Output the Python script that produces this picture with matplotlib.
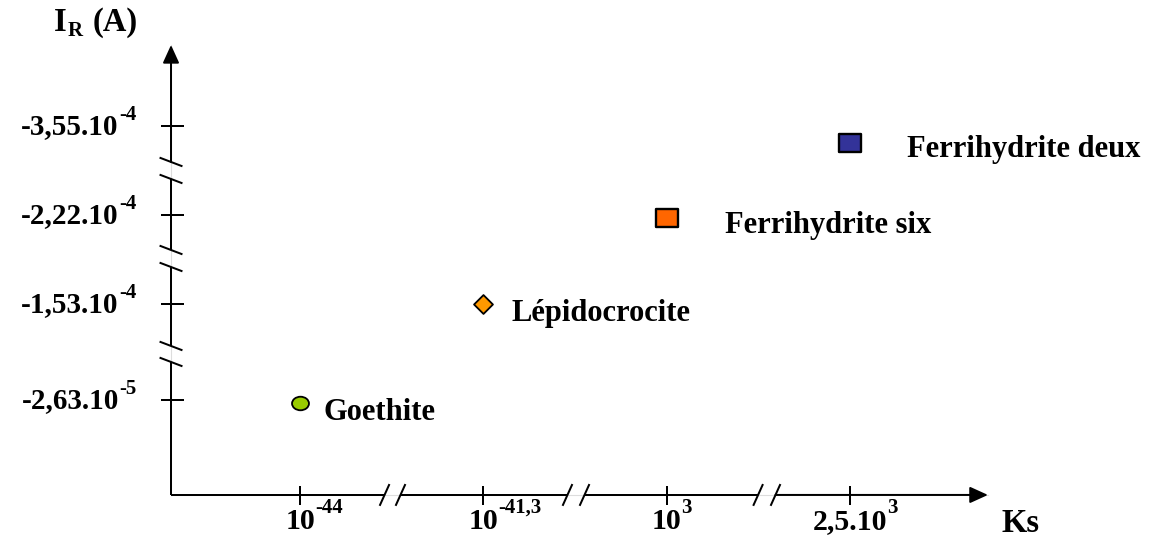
import matplotlib.pyplot as plt
from matplotlib.path import Path
from matplotlib.transforms import Affine2D

plt.rcParams['font.family'] = ['Liberation Serif', 'DejaVu Serif']
plt.rcParams['font.weight'] = 'bold'

# axe des Ks : graduations sur un axe coupé
ks_base = ['10', '10', '10', '2,5.10']
ks_exp = ['-44', '-41,3', '3', '3']
ks_pos = [1, 2, 3, 4]

# axe du courant I_R (A)
ir_base = ['-2,63.10', '-1,53.10', '-2,22.10', '-3,55.10']
ir_exp = ['-5', '-4', '-4', '-4']
ir_pos = [1, 2.05, 3.02, 4]

# oxydes de fer
minerals = ['Goethite', 'Lépidocrocite', 'Ferrihydrite six', 'Ferrihydrite deux']
min_ks = [1, 2, 3, 4]
min_ir = [0.97, 2.05, 2.99, 3.81]
colors = ['#99CC00', '#FF9900', '#FF6600', '#333399']

# coupures des axes
x_breaks = [1.461, 1.548, 2.459, 2.552, 3.499, 3.594]
y_breaks = [1.416, 1.591, 2.455, 2.641, 3.418, 3.604]
x0, y0 = 0.296, -0.039
x_tip, y_tip = 4.753, 4.884

LW = 1.44

ellipse = Path.unit_circle().transformed(Affine2D().scale(1.25, 1))
diamond = Path([(0, 1), (1, 0), (0, -1), (-1, 0), (0, 1)], closed=True)
rect = Path.unit_rectangle().transformed(Affine2D().translate(-0.5, -0.5).scale(1.2, 1))
markers = [ellipse, diamond, rect, rect]
msizes = [12.2, 13.6, 15.6, 16.0]
# décalage des étiquettes (pixels)
lab_off = [(23.5, -17), (28, -17), (58, -15), (57.5, -14)]

fig = plt.figure(figsize=(11.54, 5.39), dpi=100)
ax = fig.add_axes([0, 0, 1, 1])
ax.set_xlim(-0.637, 5.659)
ax.set_ylim(-0.521, 5.376)
ax.axis('off')

# trait fin gris sous les coupures
ax.plot([x0, x_tip], [y0, y0], color='#dddddd', lw=0.8, zorder=1)
ax.plot([x0, x0], [y0, y_tip], color='#dddddd', lw=0.8, zorder=1)

# axe horizontal
xs = [x0] + x_breaks
for a, b in zip(xs[0::2], xs[1::2]):
    ax.plot([a, b], [y0, y0], color='k', lw=LW, solid_capstyle='butt', zorder=2)
ax.annotate('', xy=(x_tip, y0), xytext=(x_breaks[-1], y0),
            arrowprops=dict(arrowstyle='-|>,head_length=1.1,head_width=0.5',
                            mutation_scale=10, lw=LW, color='k',
                            shrinkA=0, shrinkB=0))
# axe vertical
ys = [y0] + y_breaks
for a, b in zip(ys[0::2], ys[1::2]):
    ax.plot([x0, x0], [a, b], color='k', lw=LW, solid_capstyle='butt', zorder=2)
ax.annotate('', xy=(x0, y_tip), xytext=(x0, y_breaks[-1]),
            arrowprops=dict(arrowstyle='-|>,head_length=1.1,head_width=0.5',
                            mutation_scale=10, lw=LW, color='k',
                            shrinkA=0, shrinkB=0))

# barres obliques des coupures
for xb in x_breaks:
    ax.plot([xb - 0.0245, xb + 0.0245], [y0 - 0.109, y0 + 0.109], color='k', lw=LW)
for yb in y_breaks:
    ax.plot([x0 - 0.0573, x0 + 0.0573], [yb + 0.0438, yb - 0.0438], color='k', lw=LW)

# graduations
for xp in ks_pos:
    ax.plot([xp, xp], [y0 + 0.088, y0 - 0.098], color='k', lw=LW)
for yp in ir_pos:
    ax.plot([x0 - 0.049, x0 + 0.065], [yp, yp], color='k', lw=LW)

# étiquettes de l'axe Ks (base + exposant)
for xp, b, e in zip(ks_pos, ks_base, ks_exp):
    t = ax.annotate(b, xy=(xp, y0), xytext=(0, -34), textcoords='offset pixels',
                    ha='center', va='baseline', fontsize=21.5, annotation_clip=False)
    ax.annotate(e, xy=(1, 0), xycoords=t, xytext=(0, 17), textcoords='offset pixels',
                ha='left', va='bottom', fontsize=15, annotation_clip=False)

# étiquettes de l'axe I_R
for yp, b, e in zip(ir_pos, ir_base, ir_exp):
    s = ax.annotate(e, xy=(x0, yp), xytext=(-35, 6), textcoords='offset pixels',
                    ha='right', va='baseline', fontsize=15, annotation_clip=False)
    ax.annotate(b, xy=(0, 0), xycoords=s, xytext=(0, -15), textcoords='offset pixels',
                ha='right', va='bottom', fontsize=21, annotation_clip=False)

# titres des axes
a = ax.annotate('(A)', xy=(x0, y_tip), xytext=(-33, 14), textcoords='offset pixels',
                ha='right', va='baseline', fontsize=23.5, annotation_clip=False)
r = ax.annotate('R', xy=(0, 0), xycoords=a, xytext=(-10, -2.5), textcoords='offset pixels',
                ha='right', va='bottom', fontsize=15, annotation_clip=False)
ax.annotate('I', xy=(0, 0), xycoords=r, xytext=(-1, 2.5), textcoords='offset pixels',
            ha='right', va='bottom', fontsize=23.5, annotation_clip=False)
ax.annotate('Ks', xy=(x_tip, y0), xytext=(14, -37), textcoords='offset pixels',
            ha='left', va='baseline', fontsize=23.5, annotation_clip=False)

# points et noms des minéraux
for name, xk, yi, c, m, ms, off in zip(minerals, min_ks, min_ir, colors,
                                        markers, msizes, lab_off):
    ax.plot(xk, yi, linestyle='none', marker=m, markersize=ms,
            markerfacecolor=c, markeredgecolor='k',
            markeredgewidth=1.7 if m is rect else 1.3, zorder=3)
    ax.annotate(name, xy=(xk, yi), xytext=off, textcoords='offset pixels',
                ha='left', va='baseline', fontsize=22, annotation_clip=False)

fig.savefig('out.png', dpi=100)
